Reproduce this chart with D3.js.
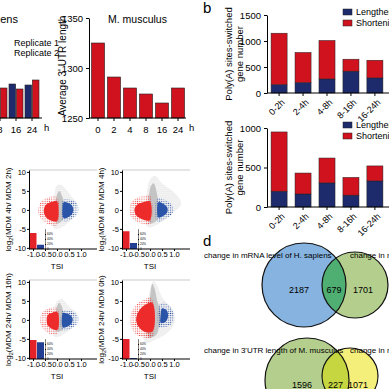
<!DOCTYPE html>
<html>
<head>
<meta charset="utf-8">
<script src="https://cdn.jsdelivr.net/npm/d3@7"></script>
<style>
  body { margin: 0; background: #fff; }
  svg { display: block; font-family: "Liberation Sans", Arial, sans-serif; }
</style>
</head>
<body>
<svg width="389" height="389"></svg>
<script>
// ---------- data ----------
// panel a: average 3'UTR length
const hsTimes = ["8", "16", "24"];
const hsRep1 = [1428, 1434, 1433];
const hsRep2 = [1430, 1429, 1438];
const mmTimes = ["0", "2", "4", "8", "16", "24"];
const mmLength = [1325, 1291, 1280, 1274, 1265, 1280];

// panel b: poly(A) sites-switched gene number
const intervals = ["0-2h", "2-4h", "4-8h", "8-16h", "16-24h"];
const hsLengthening = [160, 200, 270, 420, 290];
const hsShortening = [990, 580, 740, 230, 340];
const mmLengthening = [200, 165, 305, 150, 330];
const mmShortening = [750, 265, 315, 225, 190];

// panel c: TSI scatter, point clouds outlined from the picture (TSI, log2 ratio)
const comparisons = ["MDM 4h/ MDM 2h", "MDM 8h/ MDM 4h", "MDM 24h/ MDM 16h", "MDM 24h/ MDM 0h"];
const greyHalo = [
  [[-0.1,-5],[0.35,-4],[0.7,-1.5],[0.85,1.5],[0.6,3.5],[0.2,6.5],[0,6.5],[-0.12,3]],
  [[-0.1,-4.5],[0.4,-3.5],[0.9,-1],[1.3,1.5],[1.1,4],[0.5,7],[0.2,9],[0,8],[-0.15,3]],
  [[-0.1,-4.5],[0.35,-3.5],[0.75,-1],[0.85,1.5],[0.5,3.5],[0.2,5.5],[0,5],[-0.12,2.5]],
  [[-0.2,-6],[0.3,-5],[0.8,-3],[1.05,0],[0.9,3],[0.5,6],[0.3,9],[0.15,10.3],[0.05,9],[-0.1,5]]
];
const greyCore = [
  [[0,-3.5],[0.2,-3],[0.3,-1],[0.3,1.5],[0.22,3.5],[0.1,5],[0,4]],
  [[0,-3.5],[0.25,-3],[0.35,-1],[0.35,1.5],[0.3,4],[0.15,7],[0.02,6]],
  [[0,-3],[0.2,-2.8],[0.28,-1],[0.28,1.5],[0.2,3.5],[0.1,4.5],[0,3.5]],
  [[-0.05,-4.5],[0.25,-4],[0.4,-1],[0.45,2],[0.3,5],[0.2,8],[0.1,9.5],[0.02,7]]
];
const redHalo = [
  [[0,-4],[-0.35,-3.8],[-0.65,-2.5],[-0.78,0],[-0.65,2.2],[-0.35,3.3],[0,3.4]],
  [[0,-3.8],[-0.4,-3.5],[-0.75,-2.2],[-0.85,0],[-0.75,2.2],[-0.4,3.5],[0,3.8]],
  [[0,-3.8],[-0.35,-3.5],[-0.6,-2.2],[-0.7,0],[-0.6,2],[-0.35,3],[0,3.3]],
  [[0.1,-4.5],[-0.35,-4.5],[-0.7,-3],[-0.82,0],[-0.7,3],[-0.35,5],[0.05,5.8]]
];
const redCore = [
  [[0,-3],[-0.25,-2.8],[-0.45,-2],[-0.55,-0.5],[-0.5,1],[-0.35,1.8],[-0.15,2.2],[0,2.3]],
  [[0,-2.7],[-0.3,-2.5],[-0.55,-1.6],[-0.65,0],[-0.55,1.3],[-0.3,2],[0,2.2]],
  [[0.02,-2.6],[-0.2,-2.4],[-0.38,-1.5],[-0.43,0],[-0.38,1.3],[-0.2,1.9],[0.02,2]],
  [[0.12,-3],[-0.2,-3.2],[-0.45,-2],[-0.58,0],[-0.45,2.5],[-0.2,4],[0.1,4.5]]
];
const blueHalo = [
  [[0.25,-3],[0.6,-2.5],[0.85,-1],[0.9,0.5],[0.75,2.2],[0.45,2.8],[0.25,2.6]],
  [[0.3,-3],[0.65,-2.4],[0.95,-0.8],[0.95,0.8],[0.7,2.4],[0.3,3]],
  [[0.22,-2.8],[0.55,-2.4],[0.85,-1],[0.9,0.6],[0.7,2],[0.4,2.6],[0.22,2.4]],
  [[0.4,-2],[0.8,-1.5],[1,0.5],[0.9,3],[0.6,4.5],[0.4,4]]
];
const blueCore = [
  [[0.28,-2.2],[0.5,-1.8],[0.65,-0.8],[0.68,0.3],[0.6,1.3],[0.45,1.9],[0.28,2]],
  [[0.35,-2],[0.55,-1.6],[0.72,-0.6],[0.72,0.6],[0.55,1.6],[0.35,2]],
  [[0.25,-2],[0.45,-1.7],[0.62,-0.8],[0.65,0.4],[0.55,1.3],[0.4,1.7],[0.25,1.8]],
  [[0.45,-0.8],[0.65,-0.5],[0.75,0.8],[0.7,2.5],[0.5,3],[0.45,1.5]]
];
const insetRed = [64, 71, 76, 80];
const insetBlue = [17, 24, 67, 4];
const insetTicks = ["0", "20%", "40%", "60%"];

// panel d: venn counts
const venn1Labels = ["change in mRNA level of H. sapiens", "change in mRNA level of M. musculus"];
const venn1Counts = [2187, 679, 1701];
const venn2Labels = ["change in 3'UTR length of M. musculus", "change in mRNA level of M. musculus"];
const venn2Counts = [1596, 227, 1071];

const red = "#d0121f", navy = "#1d2a6b";
const svg = d3.select("svg");
const defs = svg.append("defs");
[["dGrey", "#b8b8b8", 1.9, 0.55], ["dRed", "#ec2a2a", 2.2, 0.6], ["dBlue", "#2a52a6", 2.2, 0.6]].forEach(p => {
  const pat = defs.append("pattern").attr("id", p[0]).attr("patternUnits", "userSpaceOnUse")
    .attr("width", p[2]).attr("height", p[2]);
  pat.append("circle").attr("cx", p[2] / 2).attr("cy", p[2] / 2).attr("r", p[3]).attr("fill", p[1]);
});

// ---------- panel a, H. sapiens (cropped) ----------
{
  const x = d3.scaleBand().domain(hsTimes).range([-8, 40]);
  const xs = d3.scaleBand().domain([0, 1]).range([1, 15]).paddingInner(0.1);
  const y = d3.scaleLinear().domain([1400, 1500]).range([118, 18]);
  const g = svg.append("g");
  hsTimes.forEach((t, i) => {
    [hsRep1[i], hsRep2[i]].forEach((v, j) => {
      g.append("rect")
        .attr("x", x(t) + xs(j)).attr("width", xs.bandwidth())
        .attr("y", y(v)).attr("height", y(1400) - y(v))
        .attr("fill", j === 0 ? navy : red).attr("stroke", "#222").attr("stroke-width", 0.6);
    });
  });
  g.append("g").attr("transform", "translate(0,118)")
    .call(d3.axisBottom(x).tickSize(3).tickSizeOuter(0))
    .call(a => a.select(".domain").attr("d", "M-10,0H42"))
    .call(a => a.selectAll("text").attr("font-size", 9.5).attr("dy", "0.9em"));
  g.append("text").attr("x", 44).attr("y", 131).attr("font-size", 9.5).text("h");
  g.append("text").attr("x", 18).attr("y", 23).attr("font-size", 11).attr("text-anchor", "end").text("H. sapiens");
  g.append("text").attr("x", 59).attr("y", 46).attr("font-size", 9).attr("text-anchor", "end").text("Replicate 1");
  g.append("text").attr("x", 59).attr("y", 56).attr("font-size", 9).attr("text-anchor", "end").text("Replicate 2");
}

// ---------- panel a, M. musculus ----------
{
  const x = d3.scaleBand().domain(mmTimes).range([90, 186]).paddingInner(0.18).paddingOuter(0.09);
  const y = d3.scaleLinear().domain([1250, 1350]).range([118, 18]);
  const g = svg.append("g");
  g.selectAll("rect").data(mmLength).join("rect")
    .attr("x", (d, i) => x(mmTimes[i])).attr("width", x.bandwidth())
    .attr("y", d => y(d)).attr("height", d => y(1250) - y(d))
    .attr("fill", red).attr("stroke", "#222").attr("stroke-width", 0.6);
  g.append("g").attr("transform", "translate(89,0)")
    .call(d3.axisLeft(y).tickValues([1250, 1300, 1350]).tickFormat(d3.format("d")).tickSize(3).tickSizeOuter(0))
    .call(a => a.selectAll("text").attr("font-size", 9.5));
  g.append("g").attr("transform", "translate(0,118)")
    .call(d3.axisBottom(x).tickSize(3).tickSizeOuter(0))
    .call(a => a.select(".domain").attr("d", "M89,0H186"))
    .call(a => a.selectAll("text").attr("font-size", 9.5).attr("dy", "0.9em"));
  g.append("text").attr("x", 189).attr("y", 131).attr("font-size", 9.5).text("h");
  g.append("text").attr("transform", "translate(66,66) rotate(-90)")
    .attr("text-anchor", "middle").attr("font-size", 10).text("Average 3' UTR length");
  g.append("text").attr("x", 108).attr("y", 23).attr("font-size", 10.5).text("M. musculus");
}

// ---------- panel b ----------
svg.append("text").attr("x", 203).attr("y", 13).attr("font-size", 15).text("b");

function stacked(top, bottom, max, ticks, len, shr) {
  const x = d3.scaleBand().domain(intervals).range([267, 387]).paddingInner(0.33).paddingOuter(0.17);
  const y = d3.scaleLinear().domain([0, max]).range([bottom, top]);
  const g = svg.append("g");
  const stack = d3.stack().keys(["len", "shr"])(intervals.map((k, i) => ({ key: k, len: len[i], shr: shr[i] })));
  stack.forEach((layer, li) => {
    g.selectAll(null).data(layer).join("rect")
      .attr("x", d => x(d.data.key)).attr("width", x.bandwidth())
      .attr("y", d => y(d[1])).attr("height", d => y(d[0]) - y(d[1]))
      .attr("fill", li === 0 ? navy : red).attr("stroke", "#222").attr("stroke-width", 0.5);
  });
  g.append("g").attr("transform", "translate(267,0)")
    .call(d3.axisLeft(y).tickValues(ticks).tickFormat(d3.format("d")).tickSize(3).tickSizeOuter(0))
    .call(a => a.selectAll("text").attr("font-size", 9.5));
  g.append("g").attr("transform", `translate(0,${bottom})`)
    .call(d3.axisBottom(x).tickSize(3).tickSizeOuter(0))
    .call(a => a.select(".domain").attr("d", "M267,0H389"))
    .call(a => a.selectAll("text").attr("font-size", 9).attr("text-anchor", "end")
      .attr("transform", "rotate(-45)").attr("dx", "-0.3em").attr("dy", "0.6em"));
  const cy = (top + bottom) / 2;
  g.append("text").attr("transform", `translate(232,${cy}) rotate(-90)`)
    .attr("text-anchor", "middle").attr("font-size", 9.5).text("Poly(A) sites-switched");
  g.append("text").attr("transform", `translate(243,${cy}) rotate(-90)`)
    .attr("text-anchor", "middle").attr("font-size", 9.5).text("gene number");
  ["Lengthening", "Shortening"].forEach((k, i) => {
    const ly = top - 6 + i * 11;
    g.append("rect").attr("x", 343).attr("y", ly).attr("width", 9).attr("height", 6)
      .attr("fill", i === 0 ? navy : red).attr("stroke", "#222").attr("stroke-width", 0.5);
    g.append("text").attr("x", 356).attr("y", ly + 6).attr("font-size", 9).text(k);
  });
}
stacked(15, 93, 1500, [0, 500, 1000, 1500], hsLengthening, hsShortening);
stacked(128, 207, 1000, [0, 500, 1000], mmLengthening, mmShortening);

// ---------- panel c, scatter ----------
const fmt = v => d3.format(".1f")(v).replace("−", "-");
comparisons.forEach((name, i) => {
  const left = i % 2 === 0 ? 29 : 122;
  const top = i < 2 ? 170 : 280;
  const w = 68, h = 79;
  const x = d3.scaleLinear().domain([-1.167, 1.667]).range([left, left + w]);
  const y = d3.scaleLinear().domain([-10.3, 10.5]).range([top + h, top]);
  const g = svg.append("g");
  g.append("line").attr("x1", left).attr("x2", left + w).attr("y1", top).attr("y2", top)
    .attr("stroke", "#aaa").attr("stroke-width", 0.6);
  const line = d3.line().x(d => x(d[0])).y(d => y(d[1])).curve(d3.curveCatmullRomClosed);
  g.append("path").attr("d", line(greyHalo[i])).attr("fill", "url(#dGrey)");
  g.append("path").attr("d", line(greyCore[i])).attr("fill", "#c4c4c4");
  g.append("path").attr("d", line(redHalo[i])).attr("fill", "url(#dRed)");
  g.append("path").attr("d", line(redCore[i])).attr("fill", "#ee2b2b");
  g.append("path").attr("d", line(blueHalo[i])).attr("fill", "url(#dBlue)");
  g.append("path").attr("d", line(blueCore[i])).attr("fill", "#2a54a8");
  // inset bars
  const iy = d3.scaleLinear().domain([0, 80]).range([top + h, top + h - 20]);
  [insetRed[i], insetBlue[i]].forEach((v, j) => {
    g.append("rect").attr("x", left + 0.5 + j * 7.5).attr("width", 7)
      .attr("y", iy(v)).attr("height", iy(0) - iy(v))
      .attr("fill", j === 0 ? "#e4222a" : "#233f94");
  });
  g.append("g").attr("transform", `translate(${left + 16},0)`)
    .call(d3.axisRight(iy).tickValues([0, 20, 40, 60]).tickSize(1).tickFormat((d, k) => insetTicks[k]))
    .call(a => a.selectAll("text").attr("font-size", 3).attr("x", 2))
    .call(a => a.select(".domain").attr("stroke-width", 0.5));
  g.append("g").attr("transform", `translate(${left},0)`)
    .call(d3.axisLeft(y).tickValues([-10, -5, 0, 5, 10]).tickFormat(d => String(d)).tickSize(2).tickSizeOuter(0))
    .call(a => a.selectAll("text").attr("font-size", 7.5).attr("x", -3));
  g.append("g").attr("transform", `translate(0,${top + h})`)
    .call(d3.axisBottom(x).tickValues([-1, -0.5, 0, 0.5, 1]).tickFormat(fmt).tickSize(2).tickSizeOuter(0))
    .call(a => a.select(".domain").attr("d", `M${left},0H${left + w}`))
    .call(a => a.selectAll("text").attr("font-size", 7.5).attr("y", 3));
  g.append("text").attr("x", x(0)).attr("y", top + h + 20).attr("text-anchor", "middle")
    .attr("font-size", 8).text("TSI");
  const yl = g.append("text").attr("transform", `translate(${left - 18},${top + h / 2}) rotate(-90)`)
    .attr("text-anchor", "middle").attr("font-size", 8);
  yl.append("tspan").text("log");
  yl.append("tspan").attr("font-size", 5.5).attr("dy", 2).text("2");
  yl.append("tspan").attr("dy", -2).text("(" + name + ")");
});

// ---------- panel d, venn ----------
svg.append("text").attr("x", 203).attr("y", 246).attr("font-size", 15).text("d");
function venn(labels, counts, ty, c1, c2, colors) {
  const g = svg.append("g");
  const id = "clip" + ty;
  g.append("clipPath").attr("id", id).append("circle").attr("cx", c1[0]).attr("cy", c1[1]).attr("r", c1[2]);
  g.append("circle").attr("cx", c1[0]).attr("cy", c1[1]).attr("r", c1[2]).attr("fill", colors[0]);
  g.append("circle").attr("cx", c2[0]).attr("cy", c2[1]).attr("r", c2[2]).attr("fill", colors[1]);
  g.append("circle").attr("cx", c2[0]).attr("cy", c2[1]).attr("r", c2[2]).attr("fill", colors[2])
    .attr("clip-path", `url(#${id})`);
  [c1, c2].forEach(c => g.append("circle").attr("cx", c[0]).attr("cy", c[1]).attr("r", c[2])
    .attr("fill", "none").attr("stroke", "#111").attr("stroke-width", 1.2));
  g.append("text").attr("x", 204).attr("y", ty).attr("font-size", 8).text(labels[0]);
  g.append("text").attr("x", 350).attr("y", ty).attr("font-size", 8).text(labels[1]);
  const xs = [c1[0] - 5, (c1[0] + c1[2] + c2[0] - c2[2]) / 2, c2[0] + 8];
  counts.forEach((n, k) => g.append("text").attr("x", xs[k]).attr("y", c1[1] + 8)
    .attr("text-anchor", "middle").attr("font-size", 9).text(n));
}
venn(venn1Labels, venn1Counts, 258, [304, 285, 42], [355, 285, 33], ["#86b3df", "#b4cf8d", "#4fae72"]);
venn(venn2Labels, venn2Counts, 353, [307, 380, 42], [350, 376, 28], ["#b4cf8d", "#f4ee7a", "#c5d640"]);
</script>
</body>
</html>
